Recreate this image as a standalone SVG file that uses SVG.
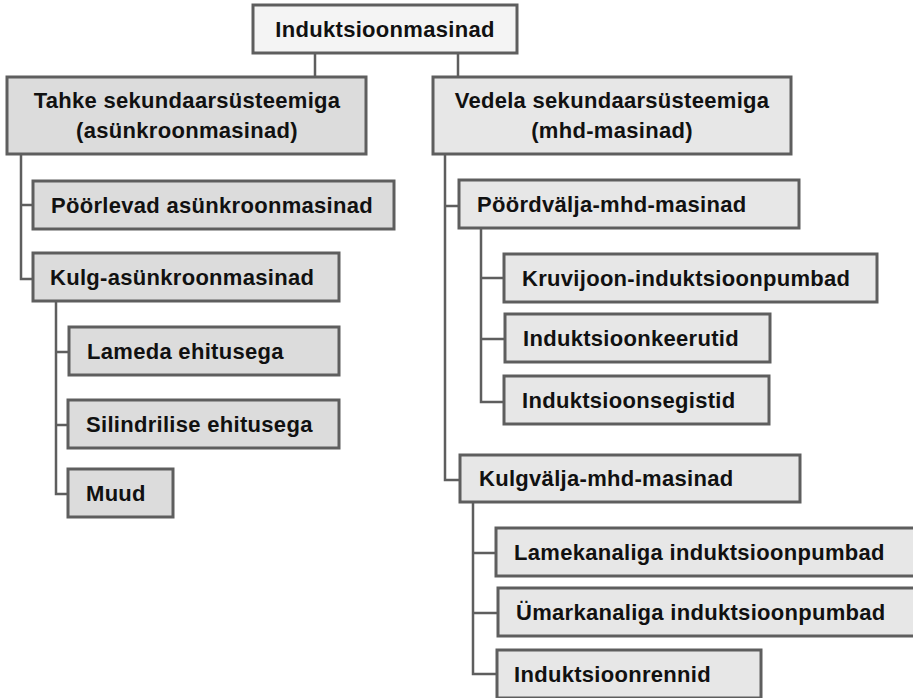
<svg xmlns="http://www.w3.org/2000/svg" width="913" height="698" viewBox="0 0 913 698">
<style>
.b{stroke:#5e5e5e;stroke-width:3}
.r0{fill:#f4f4f4}
.l{fill:#dcdcdc}
.r{fill:#e7e7e7}
text{font-family:"Liberation Sans",Arial,sans-serif;font-weight:bold;font-size:22px;letter-spacing:0.3px;fill:#111}
.c{text-anchor:middle}
#connectors path{fill:none;stroke:#5e5e5e;stroke-width:2.5}
</style>
<rect width="913" height="698" fill="#fff"/>
<g id="connectors">
<path d="M315 53V77M458 53V77"/>
<path d="M21 154V279H33M21 205H33"/>
<path d="M56 301V494H68M56 352H69M56 425H68"/>
<path d="M445 154V480H460M445 206H459"/>
<path d="M481 228V402H504M481 278H504M481 339H505"/>
<path d="M473 502V674H497M473 553H496M473 613H498"/>
</g>
<g id="root"><rect class="b r0" x="253" y="5" width="264" height="48"/><text class="c" x="385" y="36.5">Induktsioonmasinad</text></g>
<g id="tahke"><rect class="b l" x="7" y="77" width="359" height="77"/><text class="c" x="187" y="107.5">Tahke sekundaarsüsteemiga</text><text class="c" x="187" y="137.5">(asünkroonmasinad)</text></g>
<g id="vedela"><rect class="b r" x="433" y="77" width="358" height="77"/><text class="c" x="612" y="107.5">Vedela sekundaarsüsteemiga</text><text class="c" x="612" y="137.5">(mhd-masinad)</text></g>
<g id="poorlevad"><rect class="b l" x="33" y="181" width="361" height="48"/><text x="51" y="212.5">Pöörlevad asünkroonmasinad</text></g>
<g id="kulg"><rect class="b l" x="33" y="253" width="306" height="48"/><text x="50" y="284.5">Kulg-asünkroonmasinad</text></g>
<g id="lameda"><rect class="b l" x="69" y="327" width="270" height="48"/><text x="87" y="358.5">Lameda ehitusega</text></g>
<g id="silindrilise"><rect class="b l" x="68" y="400" width="271" height="48"/><text x="86" y="431.5">Silindrilise ehitusega</text></g>
<g id="muud"><rect class="b l" x="68" y="469" width="105" height="48"/><text x="86" y="500.5">Muud</text></g>
<g id="poordvalja"><rect class="b r" x="459" y="180" width="340" height="48"/><text x="477" y="212">Pöördvälja-mhd-masinad</text></g>
<g id="kruvijoon"><rect class="b r" x="504" y="254" width="373" height="48"/><text x="522" y="285.5">Kruvijoon-induktsioonpumbad</text></g>
<g id="keerutid"><rect class="b r" x="505" y="314" width="265" height="48"/><text x="523" y="345.5">Induktsioonkeerutid</text></g>
<g id="segistid"><rect class="b r" x="504" y="376" width="265" height="48"/><text x="522" y="407.5">Induktsioonsegistid</text></g>
<g id="kulgvalja"><rect class="b r" x="460" y="455" width="340" height="47"/><text x="479" y="486">Kulgvälja-mhd-masinad</text></g>
<g id="lamekanaliga"><rect class="b r" x="496" y="528" width="430" height="48"/><text x="514" y="559.5">Lamekanaliga induktsioonpumbad</text></g>
<g id="umarkanaliga"><rect class="b r" x="498" y="588" width="430" height="48"/><text x="516" y="619.5">Ümarkanaliga induktsioonpumbad</text></g>
<g id="rennid"><rect class="b r" x="497" y="650" width="264" height="48"/><text x="514" y="681.5">Induktsioonrennid</text></g>
</svg>
